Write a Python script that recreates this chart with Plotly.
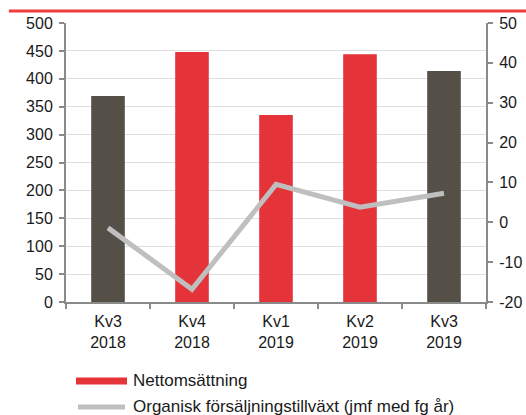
import plotly.graph_objects as go

categories = ["Kv3<br>2018", "Kv4<br>2018", "Kv1<br>2019", "Kv2<br>2019", "Kv3<br>2019"]
nettoomsattning = [369, 448, 335, 444, 414]
bar_colors = ["#545048", "#e5333a", "#e5333a", "#e5333a", "#545048"]
organisk_tillvaxt = [-1.4, -16.8, 9.5, 3.8, 7.3]
left_ticks = list(range(0, 501, 50))
right_ticks = list(range(-20, 51, 10))
right_ticktext = [str(v) for v in right_ticks]

FONT = "Liberation Sans, Arial, sans-serif"
TXT = "#1a1a1a"
AX = "#8a8a8a"
FS = 16

fig = go.Figure()
fig.add_trace(go.Bar(
    x=categories, y=nettoomsattning, marker=dict(color=bar_colors, line=dict(width=0)),
    name="Nettomsättning", showlegend=False, yaxis="y",
))
fig.add_trace(go.Scatter(
    x=categories, y=organisk_tillvaxt, mode="lines",
    line=dict(color="#bfbfbf", width=5), name="Organisk försäljningstillväxt (jmf med fg år)",
    showlegend=False, yaxis="y2",
))

fig.update_layout(
    width=526, height=415,
    margin=dict(l=66, r=40, t=23, b=113, autoexpand=False),
    paper_bgcolor="white", plot_bgcolor="white",
    bargap=0.6,
    font=dict(family=FONT, size=FS, color=TXT),
    xaxis=dict(
        showline=True, linecolor=AX, linewidth=2, ticks="outside", tickson="boundaries",
        ticklen=5, tickcolor=AX, tickwidth=1.5, showgrid=False, automargin=False,
        ticklabelstandoff=4, tickfont=dict(size=FS, color=TXT),
    ),
    yaxis=dict(
        range=[0, 500], tickvals=left_ticks, showline=True, linecolor=AX, linewidth=2,
        ticks="outside", ticklen=5, tickcolor=AX, tickwidth=1.5, automargin=False,
        showgrid=True, gridcolor="#dedede", gridwidth=1, zeroline=False,
        ticklabelstandoff=3, tickfont=dict(size=FS, color=TXT),
    ),
    yaxis2=dict(
        range=[-20, 50], tickvals=right_ticks, ticktext=right_ticktext,
        overlaying="y", side="right", automargin=False,
        showline=True, linecolor=AX, linewidth=2, ticks="outside", ticklen=5,
        tickcolor=AX, tickwidth=1.5, showgrid=False, zeroline=False,
        ticklabelstandoff=3, tickfont=dict(size=FS, color=TXT),
    ),
)

# top red rule
fig.add_shape(type="line", xref="paper", yref="paper", x0=-0.136, x1=1.1, y0=1.043, y1=1.043,
              line=dict(color="#f03c3c", width=3))

# manual legend (paper coords: x px -> (px-66)/420, y px -> (302-py)/279)
def px_x(p):
    return (p - 66) / 420

def px_y(p):
    return (302 - p) / 279

fig.add_shape(type="rect", xref="paper", yref="paper", x0=px_x(76), x1=px_x(127),
              y0=px_y(384.5), y1=px_y(377.5), fillcolor="#e5333a", line=dict(width=0))
fig.add_shape(type="line", xref="paper", yref="paper", x0=px_x(78), x1=px_x(125),
              y0=px_y(407), y1=px_y(407), line=dict(color="#bfbfbf", width=5))
fig.add_annotation(xref="paper", yref="paper", x=px_x(131), y=px_y(381), xanchor="left",
                   yanchor="middle", text="Nettomsättning", showarrow=False,
                   font=dict(size=17, color=TXT))
fig.add_annotation(xref="paper", yref="paper", x=px_x(131), y=px_y(406), xanchor="left",
                   yanchor="middle", text="Organisk försäljningstillväxt (jmf med fg år)",
                   showarrow=False, font=dict(size=17, color=TXT))

fig.write_html("out.html", config={"displayModeBar": False},
               post_script="document.body.style.margin='0px';")
